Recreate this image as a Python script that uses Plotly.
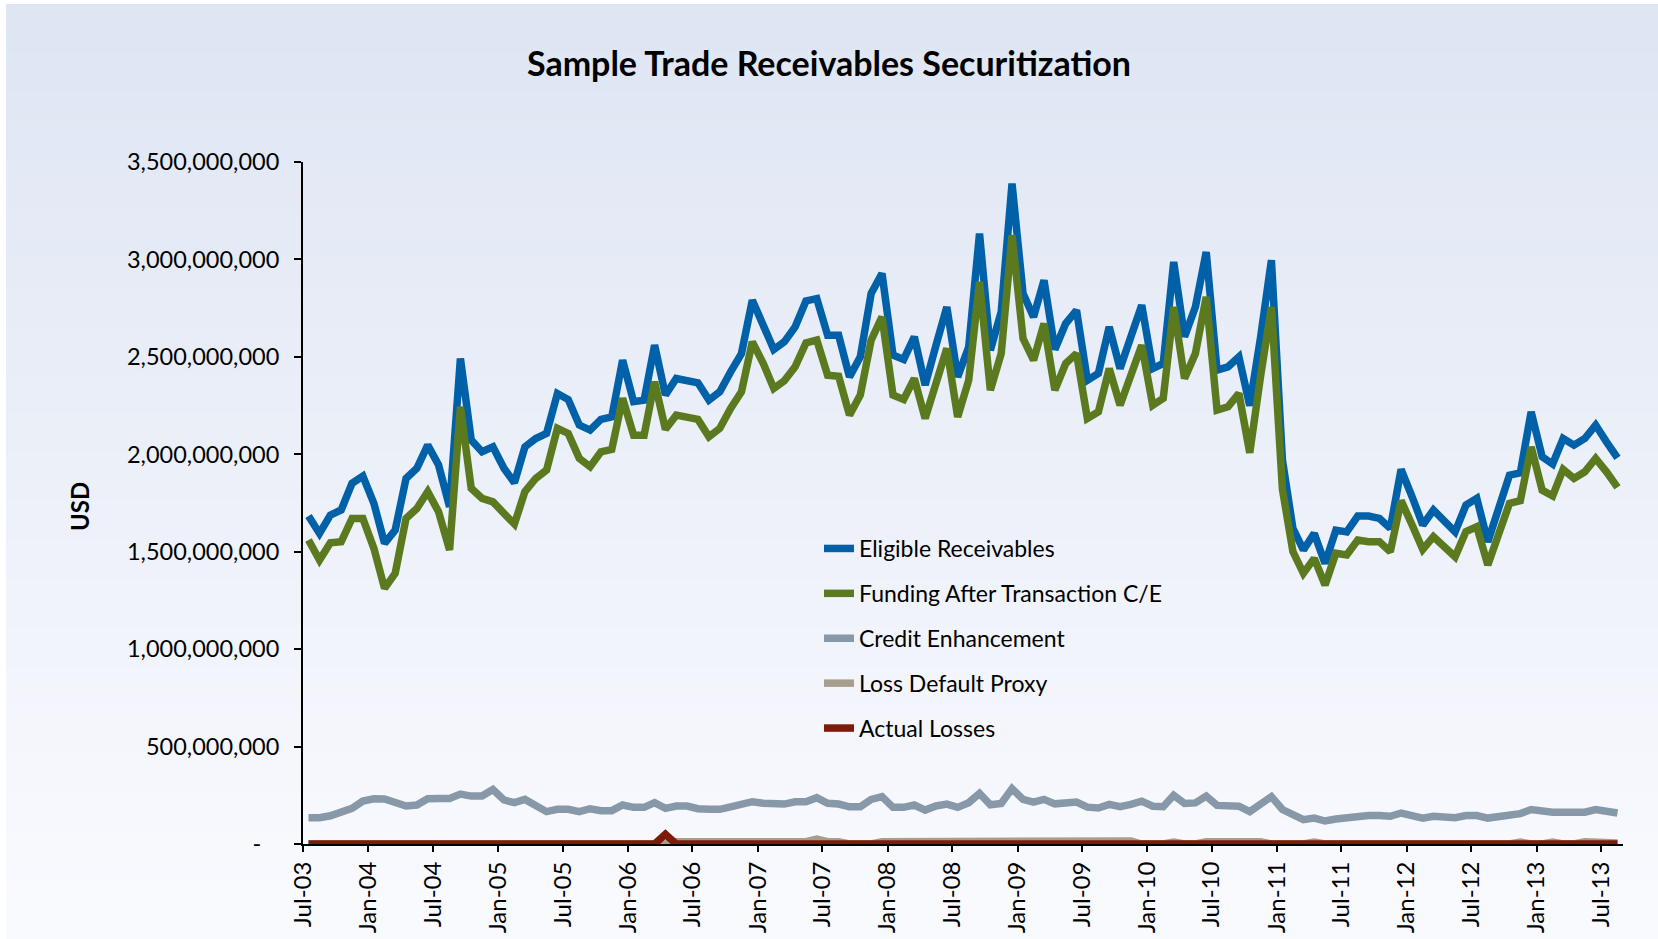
import plotly.graph_objects as go
import pandas as pd

# ---------------- data (USD millions) ----------------
months = pd.date_range("2003-07-01", "2013-08-01", freq="MS").strftime("%Y-%m").tolist()

eligible_receivables = [
    1683, 1594, 1688, 1714, 1851, 1888, 1748, 1543, 1611, 1876, 1928, 2047, 1945, 1731, 2492, 2073,
    2013, 2038, 1928, 1854, 2038, 2081, 2107, 2312, 2281, 2150, 2124, 2179, 2192, 2483, 2270, 2278,
    2560, 2304, 2389, 2380, 2367, 2278, 2321, 2423, 2517, 2791, 2662, 2538, 2577, 2654, 2787, 2799,
    2611, 2611, 2397, 2500, 2825, 2928, 2509, 2487, 2603, 2355, 2560, 2756, 2397, 2550, 3133, 2534,
    2731, 3389, 2825, 2705, 2893, 2538, 2671, 2739, 2380, 2415, 2654, 2440, 2603, 2765, 2440, 2466,
    2987, 2603, 2756, 3038, 2432, 2449, 2500, 2250, 2600, 2996, 1970, 1620, 1509, 1594, 1440, 1611,
    1602, 1683, 1683, 1671, 1620, 1922, 1782, 1637, 1714, 1654, 1602, 1739, 1774, 1551, 1714, 1893,
    1905, 2218, 1987, 1950, 2081, 2047, 2081, 2150, 2064, 1982,
]
funding_after_ce = [
    1560, 1457, 1546, 1551, 1671, 1671, 1517, 1312, 1389, 1671, 1722, 1808, 1705, 1509, 2244, 1825,
    1774, 1756, 1697, 1642, 1808, 1876, 1919, 2133, 2107, 1979, 1936, 2013, 2025, 2287, 2098, 2098,
    2372, 2128, 2201, 2192, 2179, 2090, 2133, 2235, 2321, 2577, 2466, 2338, 2377, 2449, 2572, 2586,
    2406, 2401, 2201, 2304, 2586, 2705, 2304, 2281, 2389, 2184, 2364, 2543, 2192, 2380, 2885, 2329,
    2517, 3124, 2594, 2483, 2671, 2329, 2466, 2517, 2184, 2218, 2440, 2252, 2406, 2560, 2252, 2287,
    2756, 2389, 2517, 2808, 2227, 2244, 2312, 2008, 2400, 2756, 1820, 1500, 1389, 1466, 1329, 1492,
    1483, 1560, 1551, 1551, 1500, 1762, 1637, 1512, 1577, 1526, 1474, 1603, 1628, 1432, 1577, 1748,
    1762, 2038, 1816, 1786, 1922, 1876, 1910, 1979, 1910, 1830,
]
credit_enhancement = [
    135, 135, 145, 166, 183, 220, 232, 231, 217, 195, 200, 232, 234, 234, 256, 246,
    246, 280, 226, 212, 229, 195, 166, 178, 178, 166, 181, 171, 171, 200, 188, 188,
    212, 183, 195, 195, 181, 178, 178, 191, 205, 217, 209, 205, 205, 217, 217, 238,
    209, 205, 191, 191, 229, 243, 188, 188, 200, 174, 195, 205, 188, 212, 260, 201,
    208, 284, 229, 215, 229, 206, 213, 215, 189, 185, 203, 191, 203, 220, 194, 191,
    250, 208, 211, 246, 198, 194, 194, 166, 203, 243, 177, 146, 125, 133, 118, 128,
    133, 146, 146, 146, 142, 159, 149, 133, 142, 142, 135, 146, 146, 133, 142, 156,
    156, 177, 168, 163, 163, 163, 163, 177, 166, 159,
]
loss_default_proxy = (
    [0] * 34
    + [12] * 13 + [25] + [12] * 2
    + [0] * 3
    + [12] * 23 + [15]
    + [0] * 3 + [10] + [0] * 2
    + [12] * 6
    + [0] * 4 + [10]
    + [0] * 18 + [10] + [0] * 2 + [10] + [0] * 2
    + [12] * 3 + [5]
)
actual_losses = [0] * 33 + [50] + [0] * 88

series_names = [
    "Eligible Receivables",
    "Funding After Transaction C/E",
    "Credit Enhancement",
    "Loss Default Proxy",
    "Actual Losses",
]
series_values = [eligible_receivables, funding_after_ce, credit_enhancement,
                 loss_default_proxy, actual_losses]
series_colors = ["#0060A8", "#5B7A1F", "#8799A8", "#A79F8D", "#7E1A08"]

y_tickvals = [0, 500e6, 1000e6, 1500e6, 2000e6, 2500e6, 3000e6, 3500e6]
y_ticktext = ["-\u00a0\u00a0\u00a0"] + [f"{int(v):,}" for v in y_tickvals[1:]]

# ---------------- figure ----------------
W, H = 1658, 939
L, R, T, B = 303, 35, 162, 95
FONT = "Lato, 'Open Sans', sans-serif"

fig = go.Figure()
for name, vals, col in zip(series_names, series_values, series_colors):
    fig.add_trace(go.Scatter(
        x=months, y=[v * 1e6 for v in vals], name=name, mode="lines",
        xperiod="M1", xperiodalignment="middle",
        line=dict(color=col, width=7.5), legendgroup=name,
        hovertemplate="%{x|%b-%y}: %{y:,.0f}<extra>" + name + "</extra>",
    ))

# background gradient (bands), expressed in paper coords
pw, ph = W - L - R, H - T - B
def px2x(px): return (px - L) / pw
def py2y(py): return (H - B - py) / ph
top_c, bot_c = (222, 229, 243), (249, 250, 254)
y0_px, y1_px, nb = 4, H, 96
step = (y1_px - y0_px) / nb
shapes = []
for k in range(nb):
    a = y0_px + k * step
    b = a + step + 0.6
    t = (a - y0_px) / (y1_px - y0_px)
    t = min(1.0, t * 1.05)
    c = tuple(round(top_c[j] + (bot_c[j] - top_c[j]) * t) for j in range(3))
    shapes.append(dict(type="rect", xref="paper", yref="paper", layer="below",
                       x0=px2x(6), x1=px2x(W + 2), y0=py2y(b), y1=py2y(a),
                       fillcolor=f"rgb{c}", line=dict(width=0)))

fig.update_layout(
    width=W, height=H,
    margin=dict(l=L, r=R, t=T, b=B, pad=0, autoexpand=False),
    paper_bgcolor="white", plot_bgcolor="rgba(0,0,0,0)",
    font=dict(family=FONT, size=23, color="black"),
    shapes=shapes,
    title=dict(text="<b>Sample Trade Receivables Securitization</b>",
               x=0.5, xref="container", xanchor="center",
               y=1 - 64 / H, yref="container", yanchor="middle",
               font=dict(family=FONT, size=34, color="black")),
    showlegend=True,
    legend=dict(x=px2x(819), y=py2y(527), xanchor="left", yanchor="top",
                bgcolor="rgba(0,0,0,0)", font=dict(family=FONT, size=23, color="black"),
                traceorder="grouped", tracegroupgap=12, itemwidth=30),
    xaxis=dict(type="date", range=["2003-07-01", "2013-09-01"], automargin=False,
               tick0="2003-07-01", dtick="M6", tickformat="%b-%y", tickangle=-90,
               showgrid=False, zeroline=False, showline=True, linecolor="black",
               linewidth=2, ticks="outside", ticklen=6, tickwidth=2, tickcolor="black",
               tickfont=dict(family=FONT, size=24, color="black")),
    yaxis=dict(range=[0, 3500e6], tickvals=y_tickvals, ticktext=y_ticktext, automargin=False,
               showgrid=False, zeroline=False, showline=True, linecolor="black",
               linewidth=2, ticks="outside", ticklen=7, tickwidth=2, tickcolor="black",
               ticklabelstandoff=10,
               tickfont=dict(family=FONT, size=23.5, color="black")),
    annotations=[dict(text="<b>USD</b>", x=px2x(79), y=py2y(507), xref="paper", yref="paper",
                      textangle=-90, showarrow=False, xanchor="center", yanchor="middle",
                      font=dict(family=FONT, size=24, color="black"))],
)

fig.write_html("out.html", config={"displayModeBar": False},
               post_script="document.body.style.margin='0';")
